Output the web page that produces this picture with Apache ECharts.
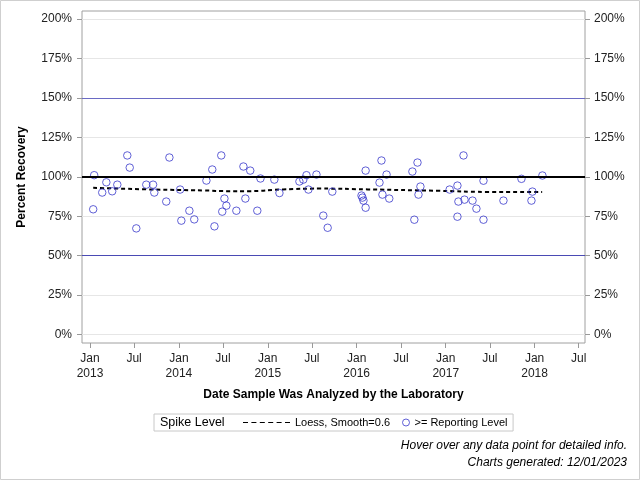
<!DOCTYPE html>
<html>
<head>
<meta charset="utf-8">
<script src="https://cdn.jsdelivr.net/npm/echarts@6/dist/echarts.min.js"></script>
<style>
html,body{margin:0;padding:0;background:#fff;}
#chart{width:640px;height:480px;}
</style>
</head>
<body>
<div id="chart"></div>
<script>
// ---- data ----
const xTickDates = ['2013-01-01','2013-07-01','2014-01-01','2014-07-01','2015-01-01','2015-07-01',
                    '2016-01-01','2016-07-01','2017-01-01','2017-07-01','2018-01-01','2018-07-01'];
const xTickLabels = ['Jan\n2013','Jul','Jan\n2014','Jul','Jan\n2015','Jul',
                     'Jan\n2016','Jul','Jan\n2017','Jul','Jan\n2018','Jul'];
const yTicks = [0,25,50,75,100,125,150,175,200];
const refLevels = [50,100,150];

const sampleDates = [
 '2013-01-18','2013-01-14','2013-02-20','2013-03-09','2013-04-02','2013-04-23','2013-06-03','2013-06-13',
 '2013-07-10','2013-08-20','2013-09-17','2013-09-22','2013-11-10','2013-11-23','2014-01-06','2014-01-11',
 '2014-02-13','2014-03-05','2014-04-24','2014-05-18','2014-05-27','2014-06-24','2014-06-28','2014-07-07',
 '2014-07-15','2014-08-25','2014-09-23','2014-10-01','2014-10-21','2014-11-19','2014-12-02','2015-01-28',
 '2015-02-18','2015-05-11','2015-05-27','2015-06-09','2015-06-17','2015-07-20','2015-08-17','2015-09-04',
 '2015-09-23','2016-01-21','2016-01-25','2016-01-29','2016-02-07','2016-02-07','2016-04-04','2016-04-12',
 '2016-04-16','2016-05-03','2016-05-14','2016-08-17','2016-08-25','2016-09-07','2016-09-11','2016-09-19',
 '2017-01-17','2017-02-18','2017-02-18','2017-02-22','2017-03-15','2017-03-19','2017-04-21','2017-05-07',
 '2017-06-05','2017-06-05','2017-08-26','2017-11-08','2017-12-19','2017-12-23','2018-02-02'
];
const recovery = [
 101.0,79.4,90.0,96.5,90.8,95.0,113.5,105.8,
 67.3,95.0,95.0,90.0,84.3,112.2,91.9,72.2,
 78.5,73.0,97.6,104.6,68.6,113.5,77.9,86.2,
 81.7,78.5,106.5,86.2,103.9,78.5,98.9,98.2,
 89.7,97.0,98.2,101.0,91.9,101.4,75.4,67.7,
 90.6,88.1,86.8,84.9,80.4,103.9,96.3,110.3,
 88.7,101.4,86.2,103.3,72.8,109.0,88.7,93.8,
 91.9,94.4,74.7,84.3,113.5,85.5,84.9,79.8,
 97.5,72.8,84.9,98.7,84.9,90.6,100.8
];
const loessDates = ['2013-01-14','2013-08-30','2014-04-18','2014-07-16','2014-10-19','2015-03-05',
                    '2015-08-04','2016-02-16','2016-12-01','2017-06-16','2018-02-01'];
const loessValues = [93.0,92.0,91.3,90.9,90.9,92.0,92.5,92.0,91.1,90.4,90.3];

// ---- helpers ----
function toTs(s){ const p = s.split('-').map(Number); return new Date(p[0], p[1]-1, p[2]).getTime(); }
const xTickTs = xTickDates.map(toTs);
const scatterData = sampleDates.map((d,i)=>[toTs(d), recovery[i]]);
const loessData = loessDates.map((d,i)=>[toTs(d), loessValues[i]]);

const FONT = 'Liberation Sans, Arial, Helvetica, sans-serif';
const refStyles = {50:{color:'#4a4ab4',width:1}, 100:{color:'#000',width:2}, 150:{color:'#6a6ac4',width:1}};
const dashIcon = 'path://M0,0h5v1h-5z M8.4,0h5v1h-5z M16.8,0h5v1h-5z M25.2,0h5v1h-5z M33.6,0h5v1h-5z M42,0h5v1h-5z';

const chart = echarts.init(document.getElementById('chart'), null, {renderer:'canvas'});

const yAxisBase = {
  type:'value', min:-5.3, max:205, gridIndex:0,
  axisLine:{show:false},
  axisTick:{show:true, length:5, lineStyle:{color:'#999'}, customValues: yTicks},
  axisLabel:{customValues: yTicks, formatter: v => v + '%', color:'#222', fontSize:12, fontFamily:FONT, margin:10},
};

const option = {
  animation:false,
  backgroundColor:'#fff',
  textStyle:{fontFamily:FONT},
  grid:{left:82, right:55, top:11, bottom:137, show:true, borderColor:'#a0a0a0', borderWidth:1,
        backgroundColor:'rgba(0,0,0,0)', containLabel:false, outerBoundsMode:'none'},
  xAxis:{
    type:'value', min: toTs('2012-11-29'), max: toTs('2018-07-27'), scale:true,
    axisLine:{show:false, onZero:false},
    axisTick:{show:true, length:5, lineStyle:{color:'#999'}, customValues: xTickTs},
    axisLabel:{customValues: xTickTs, color:'#222', fontSize:12, fontFamily:FONT, margin:8, lineHeight:15,
      formatter: function(v){
        let best = -1, bd = Infinity;
        xTickTs.forEach((t,i)=>{ const d = Math.abs(t - v); if (d < bd) { bd = d; best = i; } });
        return bd < 86400000 ? xTickLabels[best] : '';
      }},
    splitLine:{show:false},
    name:'Date Sample Was Analyzed by the Laboratory', nameLocation:'middle', nameGap:46,
    nameTextStyle:{fontWeight:'bold', fontSize:12, color:'#000', fontFamily:FONT}
  },
  yAxis:[
    Object.assign({}, yAxisBase, {
      position:'left',
      splitLine:{show:true, lineStyle:{color:'#e6e6e6', width:1}},
      name:'Percent Recovery', nameLocation:'middle', nameGap:54,
      nameTextStyle:{fontWeight:'bold', fontSize:12, color:'#000', fontFamily:FONT}
    }),
    Object.assign({}, yAxisBase, {
      position:'right', splitLine:{show:false},
      axisLabel:Object.assign({}, yAxisBase.axisLabel, {margin:9})
    })
  ],
  legend:[
    {
      data:[{name:'Loess, Smooth=0.6', icon:dashIcon, itemStyle:{color:'#000', borderWidth:0}}],
      left:154, top:414, orient:'horizontal',
      padding:[3,123,3,89],
      borderColor:'#c8c8c8', borderWidth:1,
      itemWidth:47, itemHeight:1.4, itemGap:5,
      textStyle:{fontSize:11, color:'#000', fontFamily:FONT},
      selectedMode:false
    },
    {
      data:[{name:'>= Reporting Level', itemStyle:{borderWidth:1}}],
      left:402, top:417, orient:'horizontal', padding:0,
      itemWidth:7, itemHeight:7,
      textStyle:{fontSize:11, color:'#000', fontFamily:FONT},
      selectedMode:false
    }
  ],
  graphic:[
    {type:'rect', silent:true, shape:{x:0.5,y:0.5,width:639,height:479}, style:{fill:'none', stroke:'#cfcfcf', lineWidth:1}},
    {type:'text', left:160, top:416, silent:true, style:{text:'Spike Level', fontSize:12.5, fontFamily:FONT, fill:'#000'}},
    {type:'text', right:13, top:440, silent:true, style:{text:'Hover over any data point for detailed info.', font:'italic 12px ' + FONT, fill:'#000'}},
    {type:'text', right:13, top:457, silent:true, style:{text:'Charts generated: 12/01/2023', font:'italic 12px ' + FONT, fill:'#000'}}
  ],
  series:[
    {
      name:'Loess, Smooth=0.6', type:'line', data:loessData, smooth:true, symbol:'none',
      lineStyle:{color:'#000', width:2, type:[4,3]}, itemStyle:{color:'#000'}, z:3,
      markLine:{
        silent:true, symbol:['none','none'], label:{show:false},
        data: refLevels.map(v => ({yAxis:v, lineStyle:Object.assign({type:'solid'}, refStyles[v])}))
      }
    },
    {
      name:'>= Reporting Level', type:'scatter', data:scatterData, symbol:'circle', symbolSize:7.5,
      itemStyle:{color:'rgba(255,255,255,0)', borderColor:'#3a3acc', borderWidth:1}, z:4
    }
  ]
};
chart.setOption(option);
</script>
</body>
</html>
